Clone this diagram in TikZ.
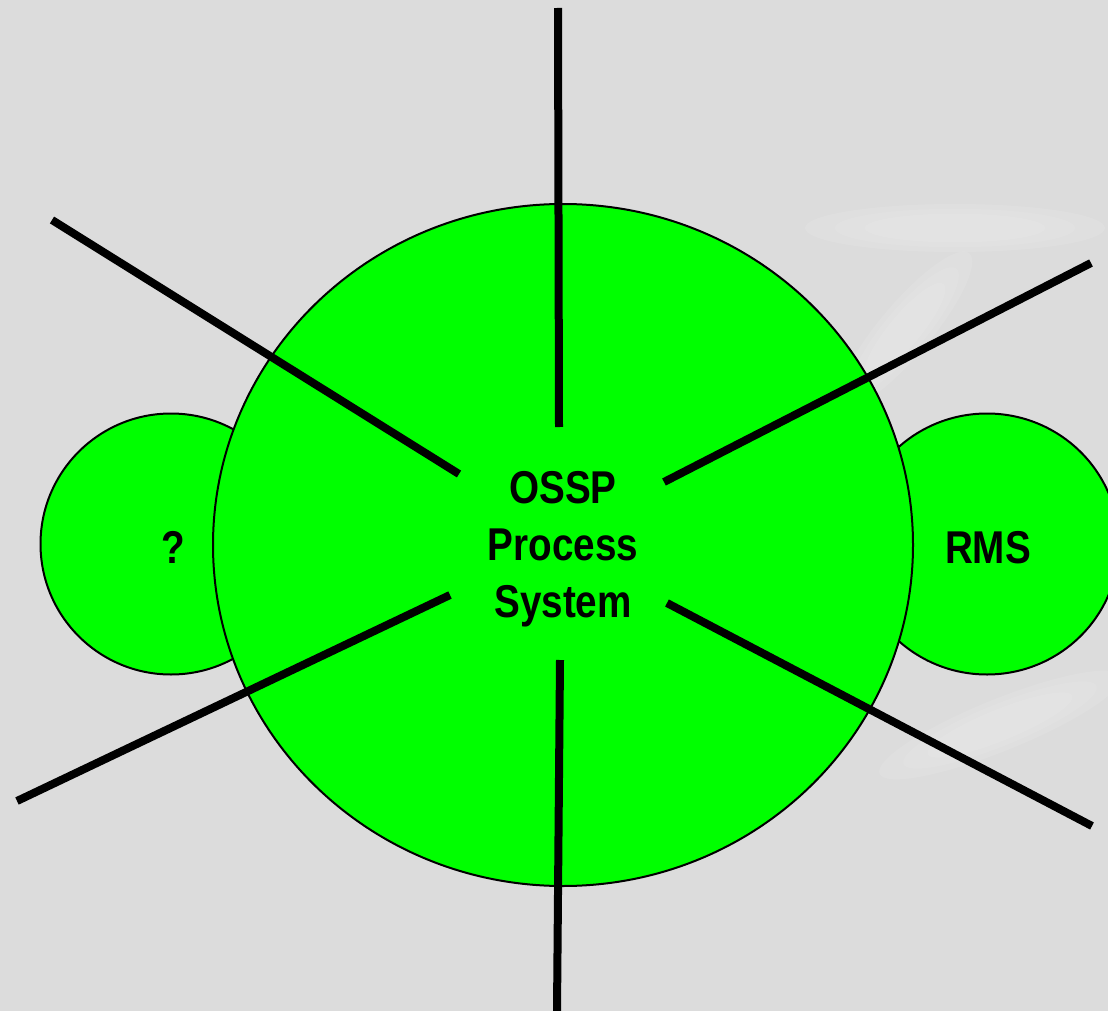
\documentclass[tikz,border=0pt]{standalone}
\usepackage{fontspec}
\setmainfont{Liberation Sans}
\usetikzlibrary{shapes.geometric}
\definecolor{bggray}{HTML}{DCDCDC}
\definecolor{bubble}{HTML}{00FF00}
\tikzset{
  bubblebox/.style={shape=ellipse, draw=black, line width=2pt, fill=bubble, inner sep=0pt},
  label text/.style={font=\bfseries\fontsize{46}{57}\selectfont, align=center, xscale=0.84, text=black},
  spoke/.style={draw=black, line width=8pt},
  sheen/.style={fill=white, opacity=0.09, draw=none}
}
\begin{document}
\begin{tikzpicture}[x=1pt,y=-1pt]
  % canvas
  \fill[bggray] (0,0) rectangle (1108,1011);
  \useasboundingbox (0,0) rectangle (1108,1011);

  % soft light streaks on the right of the canvas (layered for soft edges)
  \foreach \s in {1.0,0.8,0.6} {
    \fill[sheen] (955,228) ellipse [x radius=150*\s, y radius=24*\s];
    \fill[sheen, rotate around={50:(905,330)}] (905,330) ellipse [x radius=100*\s, y radius=26*\s];
    \fill[sheen, rotate around={22:(1000,725)}] (1000,725) ellipse [x radius=130*\s, y radius=26*\s];
  }

  % side bubbles, behind the main one
  \node[bubblebox, minimum width=261pt, minimum height=261pt] (left) at (171,544) {};
  \node[bubblebox, minimum width=264pt, minimum height=261pt] (right) at (987,544) {};
  % main bubble
  \node[bubblebox, minimum width=700pt, minimum height=682pt] (main) at (563,545) {};

  % texts
  \node[label text] (core) at (563,549) {OSSP\\Process\\System};
  \node[label text] (qmark) at (173,547) {?};
  \node[label text] (rms) at (988,548) {RMS};

  % spoke ends
  \coordinate (t1) at (559,427);  \coordinate (t2) at (558,8);
  \coordinate (ul1) at (459,474); \coordinate (ul2) at (52,220);
  \coordinate (ur1) at (664,482); \coordinate (ur2) at (1091,263);
  \coordinate (ll1) at (450,595); \coordinate (ll2) at (17,801);
  \coordinate (lr1) at (667,603); \coordinate (lr2) at (1092,826);
  \coordinate (b1) at (560,660);  \coordinate (b2) at (557,1011);

  % spokes
  \draw[spoke] (t1) -- (t2);
  \draw[spoke] (ul1) -- (ul2);
  \draw[spoke] (ur1) -- (ur2);
  \draw[spoke] (ll1) -- (ll2);
  \draw[spoke] (lr1) -- (lr2);
  \draw[spoke] (b1) -- (b2);
\end{tikzpicture}
\end{document}
